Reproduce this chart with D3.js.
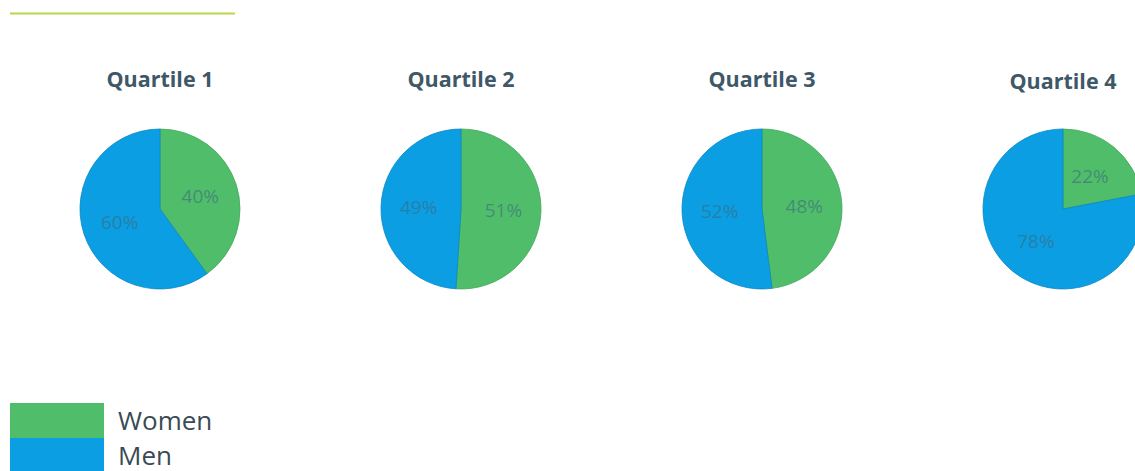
<!DOCTYPE html>
<html>
<head>
<meta charset="utf-8">
<script src="https://cdn.jsdelivr.net/npm/d3@7"></script>
<style>
  body { margin: 0; background: #fff; overflow: hidden; }
  svg { display: block; }
</style>
</head>
<body>
<div id="chart"></div>
<script>
// Data
const quartiles = ["Quartile 1", "Quartile 2", "Quartile 3", "Quartile 4"];
const women = [40, 51, 48, 22];
const men = [60, 49, 52, 78];
const seriesNames = ["Women", "Men"];

const colors = { Women: "#50bd6b", Men: "#0b9ee3" };
const strokes = { Women: "#40a85a", Men: "#0888c6" };

const svgWidth = 1135, svgHeight = 471;

const svg = d3.select("#chart")
  .append("svg")
  .attr("width", svgWidth)
  .attr("height", svgHeight);

// Accent line at top
svg.append("line")
  .attr("x1", 10).attr("x2", 235)
  .attr("y1", 13.5).attr("y2", 13.5)
  .attr("stroke", "#b8d84a")
  .attr("stroke-width", 2);

// Placement of each pie
const xPos = d3.scalePoint()
  .domain(quartiles)
  .range([160, 1063]);

const radius = 80;
const pieCy = 209;

const pie = d3.pie().sort(null).value(d => d.value);
const arc = d3.arc().innerRadius(0).outerRadius(radius);
const labelArc = d3.arc().innerRadius(radius * 0.53).outerRadius(radius * 0.53);

quartiles.forEach((q, i) => {
  const g = svg.append("g")
    .attr("transform", `translate(${xPos(q)}, ${pieCy})`);

  const slices = [
    { name: "Women", value: women[i] },
    { name: "Men", value: men[i] }
  ];

  const arcs = pie(slices);

  g.selectAll("path")
    .data(arcs)
    .enter()
    .append("path")
    .attr("d", arc)
    .attr("fill", d => colors[d.data.name])
    .attr("stroke", d => strokes[d.data.name])
    .attr("stroke-width", 0.8);

  g.selectAll("text.lbl")
    .data(arcs)
    .enter()
    .append("text")
    .attr("class", "lbl")
    .attr("transform", d => `translate(${labelArc.centroid(d)})`)
    .attr("text-anchor", "middle")
    .attr("dy", "0.35em")
    .attr("font-family", "Open Sans, sans-serif")
    .attr("font-size", 19)
    .attr("fill", "#3d6a7c")
    .attr("fill-opacity", 0.6)
    .text(d => d.data.value + "%");

  // Title
  svg.append("text")
    .attr("x", xPos(q))
    .attr("y", 87 + (i === 3 ? 2 : 0))
    .attr("text-anchor", "middle")
    .attr("font-family", "Open Sans, sans-serif")
    .attr("font-weight", "bold")
    .attr("font-size", 21.5)
    .attr("fill", "#3e5868")
    .text(q);
});

// Legend
const legendY = d3.scaleBand()
  .domain(seriesNames)
  .range([403, 473]);

const legend = svg.append("g");
seriesNames.forEach(name => {
  legend.append("rect")
    .attr("x", 10)
    .attr("y", legendY(name))
    .attr("width", 94)
    .attr("height", legendY.bandwidth())
    .attr("fill", colors[name]);

  legend.append("text")
    .attr("x", 118)
    .attr("y", legendY(name) + legendY.bandwidth() / 2)
    .attr("dy", "0.35em")
    .attr("font-family", "Open Sans, sans-serif")
    .attr("font-size", 26)
    .attr("fill", "#3a4a55")
    .text(name);
});
</script>
</body>
</html>
